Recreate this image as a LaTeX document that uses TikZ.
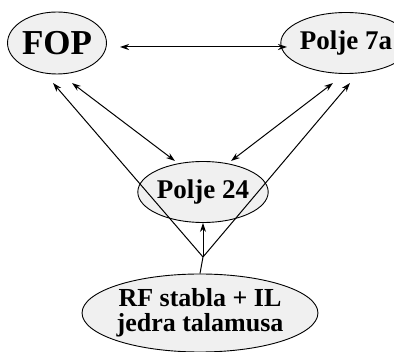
\documentclass[tikz,border=0pt]{standalone}
\usepackage{fontspec}
\setmainfont{Liberation Serif}
\usetikzlibrary{shapes.geometric,arrows.meta}
\begin{document}
\begin{tikzpicture}[x=1pt,y=-1pt,
  oval/.style={ellipse,draw=black,line width=0.9pt,fill=gray!12,inner sep=0pt,font=\bfseries\fontsize{27}{22}\selectfont,align=center},
  link/.style={line width=1pt,-{Stealth[length=9pt,width=6pt]}},
  dlink/.style={line width=1pt,{Stealth[length=9pt,width=6pt]}-{Stealth[length=9pt,width=6pt]}}]
\useasboundingbox (0,0) rectangle (394,352);
\node[oval,minimum width=96pt,minimum height=62pt,font=\bfseries\fontsize{35}{35}\selectfont] (fop) at (57,43) {FOP};
\node[oval,minimum width=92pt,minimum height=61pt] (p7) at (346,43) {Polje 7a};
\node[oval,minimum width=98pt,minimum height=61pt] (p24) at (203,192) {Polje 24};
\node[oval,minimum width=196pt,minimum height=78pt,font=\bfseries\fontsize{26}{25}\selectfont] (rf) at (200,313) {RF stabla + IL\\jedra talamusa};
\coordinate (j) at (203,257);
\coordinate (fopL) at (53,83);
\coordinate (fopR) at (72,83);
\coordinate (p7L) at (333,83);
\coordinate (p7R) at (350,83);
\coordinate (p24L) at (175,161);
\coordinate (p24R) at (231,161);
\coordinate (fopE) at (120,47);
\coordinate (p7W) at (287,47);
\draw[dlink] (fopE) -- (p7W);
\draw[dlink] (fopR) -- (p24L);
\draw[dlink] (p7L) -- (p24R);
\draw[line width=1pt] (rf.north) -- (j);
\draw[link] (j) -- (p24.south);
\draw[link] (j) -- (fopL);
\draw[link] (j) -- (p7R);
\end{tikzpicture}
\end{document}
